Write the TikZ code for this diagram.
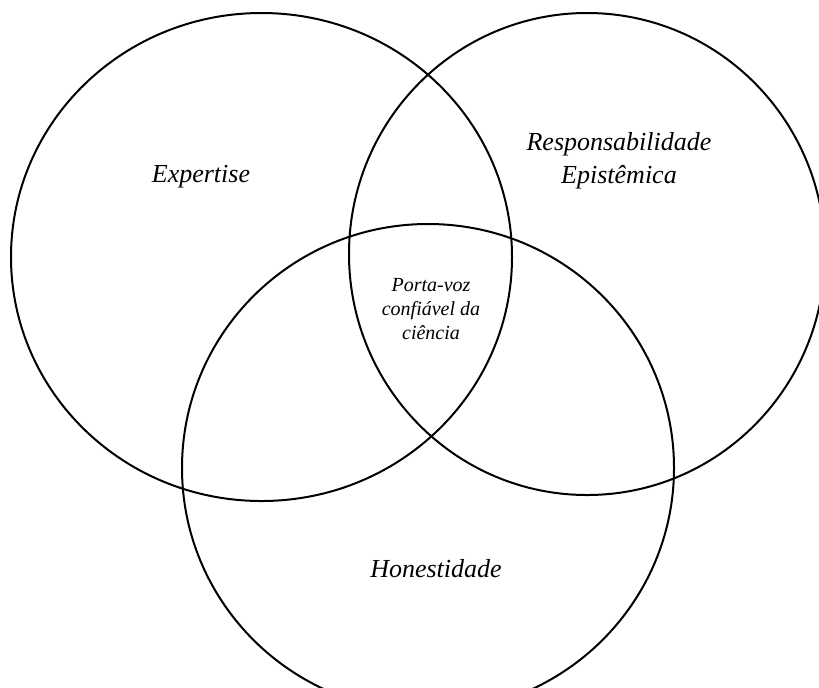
\documentclass[tikz,border=0pt]{standalone}
\usepackage{fontspec}
\setmainfont{Liberation Serif}

\begin{document}
\begin{tikzpicture}[x=0.5pt, y=-0.5pt, line width=1pt,
  label/.style={font=\fontsize{13}{16.5}\selectfont\itshape, align=center},
  core/.style={font=\fontsize{10}{12}\selectfont\itshape, align=center}]
\useasboundingbox (0,0) rectangle (819,687);
\begin{scope}
\clip (0,0) rectangle (819,687);
\draw (261.5,257) ellipse [x radius=250.5, y radius=244];
\draw (587,254) ellipse [x radius=238, y radius=241];
\draw (428,468) ellipse [x radius=246, y radius=244];
\end{scope}
\node[label] (expertise) at (201,177) {Expertise};
\node[label] (responsab) at (619,161) {Responsabilidade\\Epistêmica};
\node[label] (honest) at (436,569) {Honestidade};
\node[core] (portavoz) at (431,309) {Porta-voz\\confiável da\\ciência};
\end{tikzpicture}
\end{document}
